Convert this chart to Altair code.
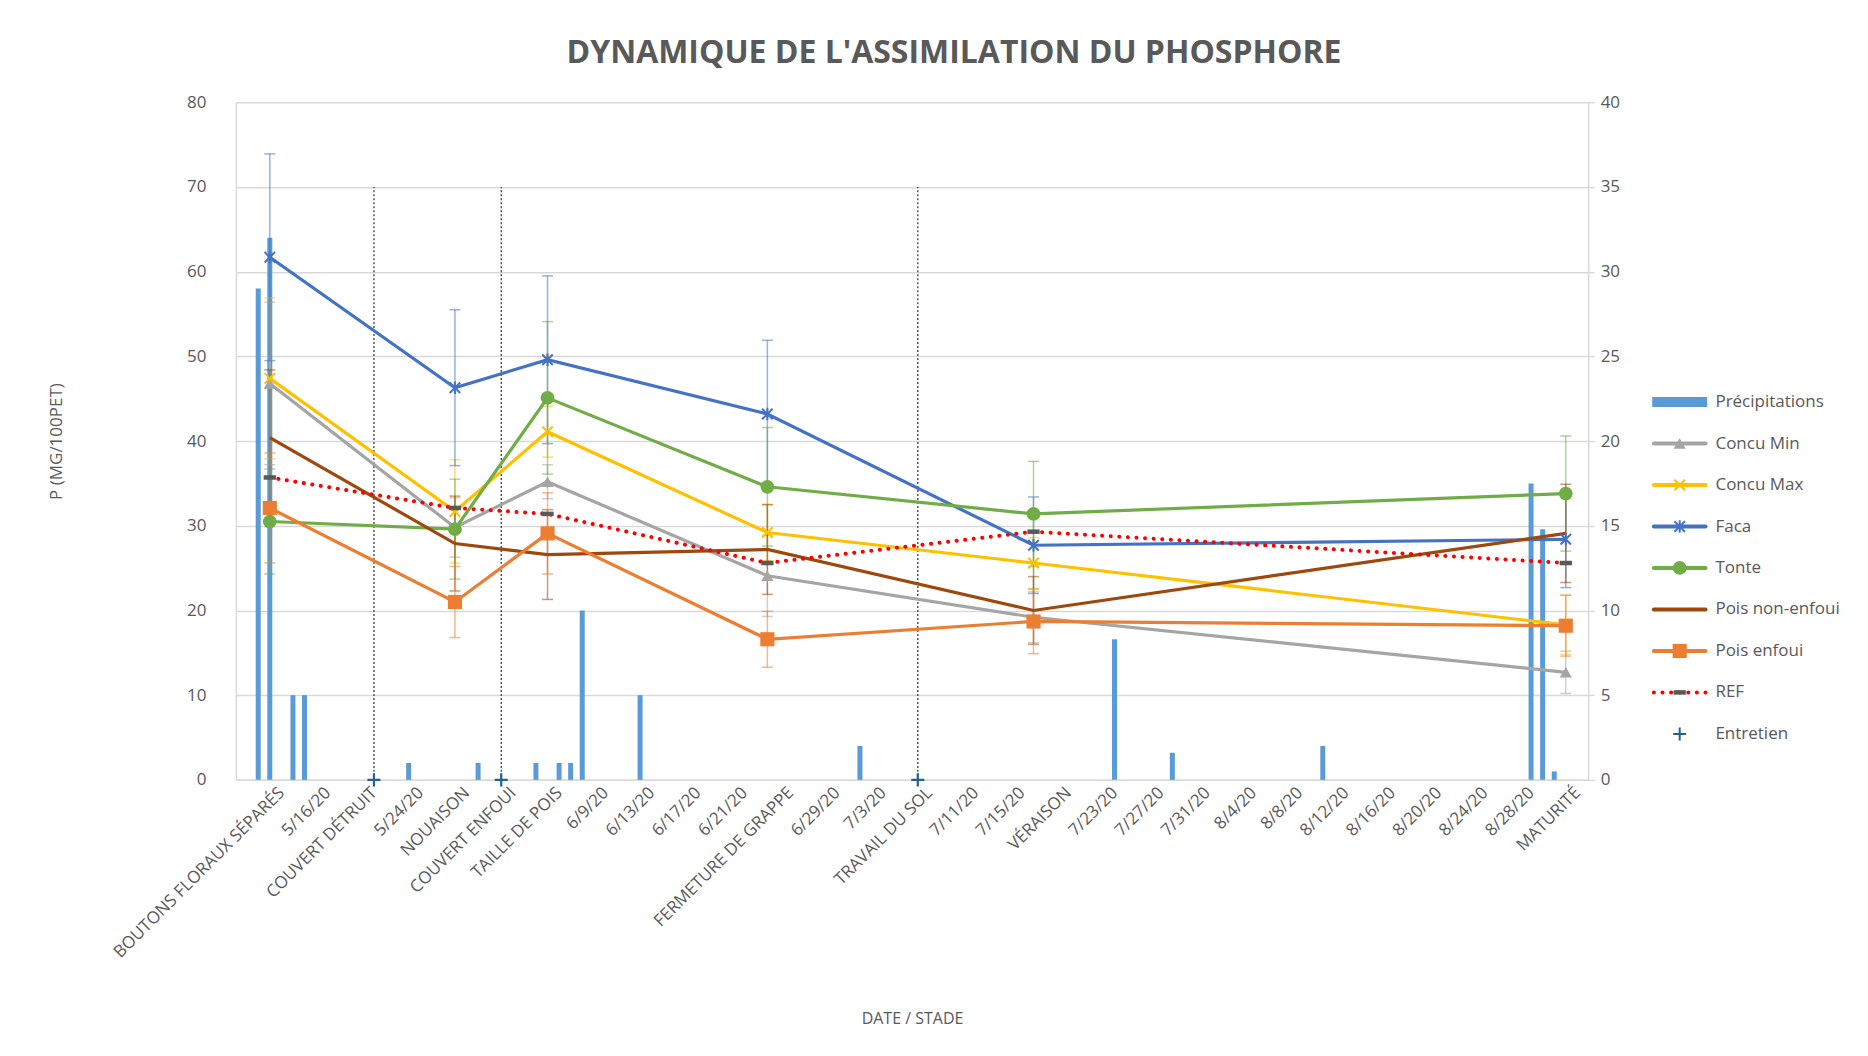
import json
import altair as alt
import pandas as pd

ORIGIN = pd.Timestamp("2020-05-16")


def day(s):
    return int((pd.Timestamp(s) - ORIGIN).days)


# ---------------- data ----------------
tick_dates = ["2020-05-12", "2020-05-16", "2020-05-20", "2020-05-24", "2020-05-28",
              "2020-06-01", "2020-06-05", "2020-06-09", "2020-06-13", "2020-06-17",
              "2020-06-21", "2020-06-25", "2020-06-29", "2020-07-03", "2020-07-07",
              "2020-07-11", "2020-07-15", "2020-07-19", "2020-07-23", "2020-07-27",
              "2020-07-31", "2020-08-04", "2020-08-08", "2020-08-12", "2020-08-16",
              "2020-08-20", "2020-08-24", "2020-08-28", "2020-09-01"]
tick_labels = ["BOUTONS FLORAUX SÉPARÉS", "5/16/20", "COUVERT DÉTRUIT", "5/24/20", "NOUAISON",
               "COUVERT ENFOUI", "TAILLE DE POIS", "6/9/20", "6/13/20", "6/17/20",
               "6/21/20", "FERMETURE DE GRAPPE", "6/29/20", "7/3/20", "TRAVAIL DU SOL",
               "7/11/20", "7/15/20", "VÉRAISON", "7/23/20", "7/27/20",
               "7/31/20", "8/4/20", "8/8/20", "8/12/20", "8/16/20",
               "8/20/20", "8/24/20", "8/28/20", "MATURITÉ"]

precip_dates = ["2020-05-10", "2020-05-11", "2020-05-13", "2020-05-14", "2020-05-23",
                "2020-05-29", "2020-06-03", "2020-06-05", "2020-06-06", "2020-06-07",
                "2020-06-12", "2020-07-01", "2020-07-23", "2020-07-28", "2020-08-10",
                "2020-08-28", "2020-08-29", "2020-08-30"]
precip_mm = [29, 32, 5, 5, 1, 1, 1, 1, 1, 10, 5, 2, 8.3, 1.6, 2, 17.5, 14.8, 0.5]

entretien_dates = ["2020-05-20", "2020-05-31", "2020-07-06"]

stage_dates = ["2020-05-11", "2020-05-27", "2020-06-04", "2020-06-23", "2020-07-16", "2020-08-31"]

concu_min = [46.8, 29.8, 35.2, 24.1, 19.2, 12.7]
concu_max = [47.4, 31.7, 41.1, 29.2, 25.6, 18.3]
faca = [61.7, 46.3, 49.6, 43.2, 27.7, 28.4]
tonte = [30.5, 29.6, 45.1, 34.6, 31.4, 33.8]
pois_non_enfoui = [40.4, 27.9, 26.6, 27.2, 20.0, 29.1]
pois_enfoui = [32.1, 21.0, 29.1, 16.6, 18.7, 18.2]
ref = [35.7, 32.1, 31.4, 25.6, 29.3, 25.6]

concu_min_err = [9.6, 3.5, 2.0, 4.8, 3.0, 2.5]
concu_max_err = [9.5, 6.1, 3.0, 3.3, 3.0, 3.5]
faca_err = [12.2, 9.2, 9.9, 8.7, 5.7, 5.7]
tonte_err = [6.2, 5.9, 9.0, 7.0, 6.2, 6.8]
pois_non_enfoui_err = [8.0, 5.6, 5.3, 5.3, 4.0, 5.8]
pois_enfoui_err = [6.5, 4.2, 4.8, 3.3, 3.8, 3.6]

series_names = ["Concu Min", "Concu Max", "Faca", "Tonte", "Pois non-enfoui", "Pois enfoui", "REF"]
series_values = {"Concu Min": concu_min, "Concu Max": concu_max, "Faca": faca, "Tonte": tonte,
                 "Pois non-enfoui": pois_non_enfoui, "Pois enfoui": pois_enfoui, "REF": ref}
series_errors = {"Concu Min": concu_min_err, "Concu Max": concu_max_err, "Faca": faca_err,
                 "Tonte": tonte_err, "Pois non-enfoui": pois_non_enfoui_err,
                 "Pois enfoui": pois_enfoui_err}

legend_names = ["Précipitations", "Concu Min", "Concu Max", "Faca", "Tonte",
                "Pois non-enfoui", "Pois enfoui", "REF", "Entretien"]

# ---------------- tables ----------------
tick_days = [day(d) for d in tick_dates]
rows = []
for name in series_names:
    errs = series_errors.get(name)
    for i, d in enumerate(stage_dates):
        v = series_values[name][i]
        rows.append({"series": name, "day": day(d), "value": v,
                     "lo": v - errs[i] if errs else None,
                     "hi": v + errs[i] if errs else None})
series_df = pd.DataFrame(rows)
precip_df = pd.DataFrame({"day": [day(d) for d in precip_dates], "mm": precip_mm})
entretien_df = pd.DataFrame({"day": [day(d) for d in entretien_dates]})
legend_df = pd.DataFrame({"name": legend_names, "row": list(range(len(legend_names)))})

# ---------------- styles ----------------
FONT = "Open Sans"
GREY_TXT = "#595959"
GRID = "#D9D9D9"
X_PATH = "M-1,-1L1,1M-1,1L1,-1"
AST_PATH = "M-1,-1L1,1M-1,1L1,-1M0,-1.2L0,1.2"
DASH_PATH = "M-1,0L1,0"
PLUS_PATH = "M-1,0L1,0M0,-1L0,1"

STYLE = {
    "Précipitations": dict(color="#5B9BD5"),
    "Concu Min": dict(color="#A5A5A5", shape="triangle-up", filled=True, size=150),
    "Concu Max": dict(color="#FFC000", shape=X_PATH, filled=False, size=110),
    "Faca": dict(color="#4472C4", shape=AST_PATH, filled=False, size=110),
    "Tonte": dict(color="#70AD47", shape="circle", filled=True, size=190),
    "Pois non-enfoui": dict(color="#9E480E", shape=None),
    "Pois enfoui": dict(color="#ED7D31", shape="square", filled=True, size=200),
    "REF": dict(color="#FF0000", shape=DASH_PATH, filled=False, size=150,
                mcolor="#595959", mwidth=4.5, dash=[0.1, 8.5]),
    "Entretien": dict(color="#255E91", shape=PLUS_PATH, filled=False, size=170),
}

PLOT_W, PLOT_H = 1353, 678

label_expr = (json.dumps(tick_labels, ensure_ascii=False)
              + "[indexof(" + json.dumps(tick_days) + ", datum.value)]")

x_scale = alt.Scale(domain=[-7.5, 108.5], nice=False, zero=False)
x_axis = alt.Axis(values=tick_days, labelExpr=label_expr, labelAngle=-45, labelAlign="right",
                  labelBaseline="middle", labelPadding=10, ticks=False, grid=False,
                  labelOverlap=False, labelFlush=False, labelFontSize=17, labelLimit=600,
                  domainColor=GRID, domainWidth=1.5,
                  title="DATE / STADE", titleY=239, titleBaseline="middle", titleFontSize=16)

yl_scale = alt.Scale(domain=[0, 80], nice=False, zero=True)
yl_axis = alt.Axis(orient="left", values=list(range(0, 81, 10)), grid=True, gridColor=GRID,
                   gridWidth=1.5, ticks=False, domainColor=GRID, domainWidth=1.5,
                   labelPadding=30, labelFontSize=17,
                   title="P (MG/100PET)", titleX=-179, titleBaseline="middle", titleFontSize=17)


def X():
    return alt.X("day:Q", scale=x_scale, axis=x_axis)


def YL(field):
    return alt.Y(f"{field}:Q", scale=yl_scale, axis=yl_axis)


# precipitation bars (right axis)
bars = alt.Chart(precip_df).mark_bar(size=5, color=STYLE["Précipitations"]["color"]).encode(
    x=X(),
    y=alt.Y("mm:Q", scale=alt.Scale(domain=[0, 40], nice=False),
            axis=alt.Axis(orient="right", values=list(range(0, 41, 5)), grid=False, ticks=True,
                          tickSize=6, tickColor=GRID, tickWidth=1.5, domainColor=GRID,
                          domainWidth=1.5, labelPadding=6, labelFontSize=17, title=None)),
)

left_layers = []
# vertical dotted lines for maintenance operations
left_layers.append(
    alt.Chart(entretien_df).mark_rule(color="#404040", strokeWidth=1.3, strokeDash=[2, 2]).encode(
        x=X(), y=alt.datum(0), y2=alt.datum(70))
)

# error bars
for name in series_names:
    if name not in series_errors:
        continue
    c = STYLE[name]["color"]
    base = alt.Chart(series_df).transform_filter(alt.datum.series == name)
    left_layers.append(base.mark_rule(color=c, opacity=0.55, strokeWidth=1.5).encode(
        x=X(), y=YL("lo"), y2="hi:Q"))
    for f in ("lo", "hi"):
        left_layers.append(base.mark_tick(color=c, opacity=0.55, thickness=1.5, size=11,
                                          orient="horizontal").encode(x=X(), y=YL(f)))

# lines
for name in series_names:
    st = STYLE[name]
    base = alt.Chart(series_df).transform_filter(alt.datum.series == name)
    if name == "REF":
        ln = base.mark_line(color=st["color"], strokeWidth=4, strokeDash=st["dash"],
                            strokeCap="round")
    else:
        ln = base.mark_line(color=st["color"], strokeWidth=3.2)
    left_layers.append(ln.encode(x=X(), y=YL("value")))

# markers
for name in series_names:
    st = STYLE[name]
    if not st.get("shape"):
        continue
    base = alt.Chart(series_df).transform_filter(alt.datum.series == name)
    if st["filled"]:
        mk = base.mark_point(shape=st["shape"], filled=True, size=st["size"],
                             color=st["color"], opacity=1)
    else:
        mk = base.mark_point(shape=st["shape"], filled=False, size=st["size"],
                             color=st.get("mcolor", st["color"]),
                             strokeWidth=st.get("mwidth", 2), opacity=1)
    left_layers.append(mk.encode(x=X(), y=YL("value")))

# maintenance crosses
ent = STYLE["Entretien"]
left_layers.append(
    alt.Chart(entretien_df).mark_point(shape=ent["shape"], filled=False, size=ent["size"],
                                       color=ent["color"], strokeWidth=2.2, opacity=1).encode(
        x=X(), y=alt.datum(0))
)

main = alt.layer(bars, alt.layer(*left_layers)).resolve_scale(y="independent").properties(
    width=PLOT_W, height=PLOT_H)

# ---------------- legend panel ----------------
LEG_W = 220
ROW_PX = 41.5
FIRST_PX = 300
lx_scale = alt.Scale(domain=[-0.22, 3.78], nice=False, zero=False)
ly_scale = alt.Scale(domain=[-FIRST_PX / ROW_PX, (PLOT_H - FIRST_PX) / ROW_PX],
                     reverse=True, nice=False, zero=False)
LY = alt.Y("row:Q", scale=ly_scale, axis=None)


def LX(v):
    return alt.XDatum(v, scale=lx_scale, axis=None)


leg_layers = []
for name in legend_names:
    st = STYLE[name]
    base = alt.Chart(legend_df).transform_filter(alt.datum.name == name)
    if name == "Précipitations":
        leg_layers.append(base.mark_rule(color=st["color"], strokeWidth=10, strokeCap="butt").encode(
            x=LX(0), x2=alt.X2Datum(1), y=LY))
    elif name == "REF":
        leg_layers.append(base.mark_rule(color=st["color"], strokeWidth=4, strokeDash=st["dash"],
                                         strokeCap="round").encode(x=LX(0.03), x2=alt.X2Datum(0.97), y=LY))
    elif name != "Entretien":
        leg_layers.append(base.mark_rule(color=st["color"], strokeWidth=4, strokeCap="round").encode(
            x=LX(0.03), x2=alt.X2Datum(0.97), y=LY))
    if st.get("shape"):
        if st["filled"]:
            mk = base.mark_point(shape=st["shape"], filled=True, size=st["size"],
                                 color=st["color"], opacity=1)
        else:
            mk = base.mark_point(shape=st["shape"], filled=False, size=st["size"],
                                 color=st.get("mcolor", st["color"]),
                                 strokeWidth=st.get("mwidth", 2), opacity=1)
        leg_layers.append(mk.encode(x=LX(0.5), y=LY))

leg_layers.append(
    alt.Chart(legend_df).mark_text(align="left", baseline="middle", fontSize=17, font=FONT,
                                   color=GREY_TXT).encode(x=LX(1.15), y=LY, text="name:N")
)
legend = alt.layer(*leg_layers).properties(width=LEG_W, height=PLOT_H)

chart = alt.hconcat(main, legend, spacing=52, bounds="flush").properties(
    title=alt.TitleParams("DYNAMIQUE DE L'ASSIMILATION DU PHOSPHORE", fontSize=32,
                          fontWeight="bold", font=FONT, color=GREY_TXT, anchor="middle",
                          offset=23),
    padding={"left": 40, "top": 29, "right": 0, "bottom": 40},
).configure_view(stroke=None).configure_axis(
    labelFont=FONT, titleFont=FONT, labelColor=GREY_TXT, titleColor=GREY_TXT,
    titleFontWeight="normal"
)

chart.save("out.html", embed_options={"renderer": "svg", "actions": False})
